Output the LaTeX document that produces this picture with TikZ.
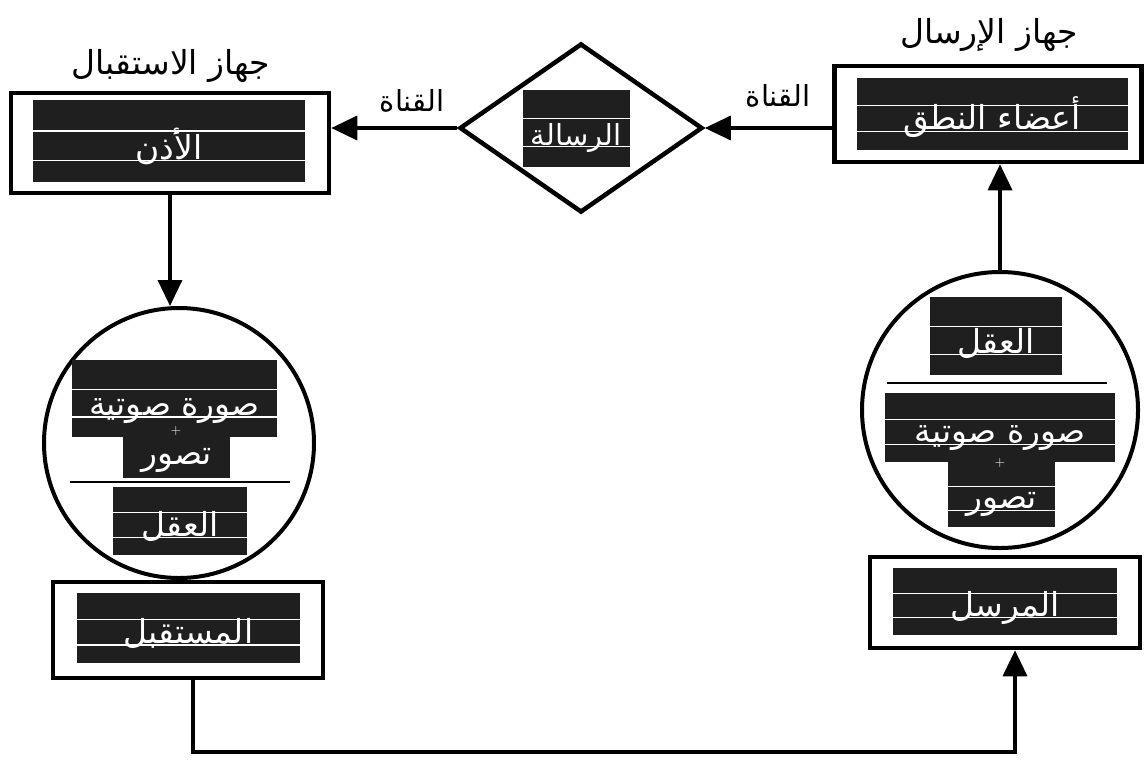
\documentclass[tikz,border=0pt]{standalone}
\usepackage{fontspec}
\usetikzlibrary{shapes.geometric,arrows.meta,calc}
\TeXXeTstate=1
\newfontfamily\arabicfont[Script=Arabic]{DejaVu Sans}
\newcommand{\artext}[1]{{\arabicfont\beginR #1\endR}}
\newcommand{\bandrules}[1]{%
  \draw[white, line width=1.3pt] ($(#1.north west)!0.38!(#1.south west)$) -- ($(#1.north east)!0.38!(#1.south east)$);
  \draw[white, line width=1.3pt] ($(#1.north west)!0.74!(#1.south west)$) -- ($(#1.north east)!0.74!(#1.south east)$);}
\tikzset{
  boxframe/.style={draw, rectangle, line width=4.5pt, inner sep=0pt},
  darkband/.style={fill=black!88, inner sep=0pt},
  bandtext/.style={text=white, inner sep=0pt, anchor=base, font=\fontsize{33}{36}\selectfont},
  lbl/.style={inner sep=0pt, font=\fontsize{33}{36}\selectfont},
  chlbl/.style={inner sep=0pt, font=\fontsize{29}{32}\selectfont},
  conn/.style={line width=3.5pt, -{Triangle[length=26pt,width=24pt]}},
  ring/.style={draw, circle, line width=4pt, inner sep=0pt},
  divider/.style={line width=2.2pt},
  plus/.style={text=white, inner sep=0pt, font=\fontsize{14}{16}\selectfont},
}
\begin{document}
\begin{tikzpicture}[x=1pt,y=-1pt]
\path[fill=white] (0,0) rectangle (1147,766);
\useasboundingbox (0,0) rectangle (1147,766);

% top-left: receiving device
\node[lbl] (recvlbl) at (171,66) {\artext{جهاز الاستقبال}};
\node[boxframe, minimum width=318pt, minimum height=100pt] (recvbox) at (170,143) {};
\node[darkband, minimum width=272pt, minimum height=82pt] (recvband) at (169,141) {};
\bandrules{recvband}
\node[bandtext] (recvtxt) at ($(recvband.north)!0.72!(recvband.south)$) {\artext{الأذن}};

% top-right: sending device
\node[lbl] (sendlbl) at (989,35) {\artext{جهاز الإرسال}};
\node[boxframe, minimum width=307pt, minimum height=96pt] (sendbox) at (988,114) {};
\node[darkband, minimum width=271pt, minimum height=72pt] (sendband) at (992,114) {};
\bandrules{sendband}
\node[bandtext] (sendtxt) at ($(sendband.north)!0.72!(sendband.south)$) {\artext{أعضاء النطق}};

% diamond: message
\node[draw, diamond, line width=4.5pt, minimum width=243pt, minimum height=169pt, inner sep=0pt] (dia) at (581,128) {};
\node[darkband, minimum width=107pt, minimum height=77pt] (msgband) at (576,128) {};
\bandrules{msgband}
\node[bandtext, font=\fontsize{29}{32}\selectfont] (msgtxt) at ($(msgband.north)!0.72!(msgband.south)$) {\artext{الرسالة}};

% channel labels
\node[chlbl] (chl) at (412,101) {\artext{القناة}};
\node[chlbl] (chr) at (778,96) {\artext{القناة}};

% left circle
\node[ring, minimum size=270pt] (lcirc) at (179,443) {};
\node[darkband, minimum width=205pt, minimum height=77pt] (lb1) at (174.5,398.5) {};
\bandrules{lb1}
\node[bandtext] (lb1t) at ($(lb1.north)!0.72!(lb1.south)$) {\artext{صورة صوتية}};
\node[darkband, minimum width=107pt, minimum height=41pt] (lb2) at (176.5,457.5) {};
\node[bandtext] (lb2t) at ($(lb2.north)!0.68!(lb2.south)$) {\artext{تصور}};
\node[plus] (lplus) at (176,431) {+};
\coordinate (ld1) at (70,482);
\coordinate (ld2) at (290,482);
\draw[divider] (ld1) -- (ld2);
\node[darkband, minimum width=134pt, minimum height=68pt] (lb3) at (180,521) {};
\bandrules{lb3}
\node[bandtext] (lb3t) at ($(lb3.north)!0.72!(lb3.south)$) {\artext{العقل}};

% right circle
\node[ring, minimum size=276pt] (rcirc) at (1000,410) {};
\node[darkband, minimum width=132pt, minimum height=78pt] (rb1) at (996,336) {};
\bandrules{rb1}
\node[bandtext] (rb1t) at ($(rb1.north)!0.72!(rb1.south)$) {\artext{العقل}};
\coordinate (rd1) at (887,383);
\coordinate (rd2) at (1107,383);
\draw[divider] (rd1) -- (rd2);
\node[darkband, minimum width=230pt, minimum height=69pt] (rb2) at (1000,427.5) {};
\bandrules{rb2}
\node[bandtext] (rb2t) at ($(rb2.north)!0.72!(rb2.south)$) {\artext{صورة صوتية}};
\node[darkband, minimum width=107pt, minimum height=65pt] (rb3) at (1001.5,494.5) {};
\bandrules{rb3}
\node[bandtext] (rb3t) at ($(rb3.north)!0.72!(rb3.south)$) {\artext{تصور}};
\node[plus] (rplus) at (1000,463) {+};

% bottom boxes
\node[boxframe, minimum width=270pt, minimum height=96pt] (lbox) at (188,630) {};
\node[darkband, minimum width=223pt, minimum height=70pt] (lband) at (188.5,628) {};
\bandrules{lband}
\node[bandtext] (lbandt) at ($(lband.north)!0.72!(lband.south)$) {\artext{المستقبل}};

\node[boxframe, minimum width=270pt, minimum height=91pt] (rbox) at (1005,602.5) {};
\node[darkband, minimum width=224pt, minimum height=67pt] (rband) at (1005,601.5) {};
\bandrules{rband}
\node[bandtext] (rbandt) at ($(rband.north)!0.72!(rband.south)$) {\artext{المرسل}};

% connectors
\draw[conn] (sendbox.west |- dia.east) -- (dia.east);
\draw[conn] (dia.west) -- (dia.west -| recvbox.east);
\draw[conn] (recvbox.south) -- (recvbox.south |- lcirc.north);
\draw[conn] (rcirc.north) -- (rcirc.north |- sendbox.south);
\coordinate (bl) at (193,752);
\coordinate (br) at (1015,752);
\draw[conn] (lbox.south -| bl) -- (bl) -- (br) -- (br |- rbox.south);
\end{tikzpicture}
\end{document}
